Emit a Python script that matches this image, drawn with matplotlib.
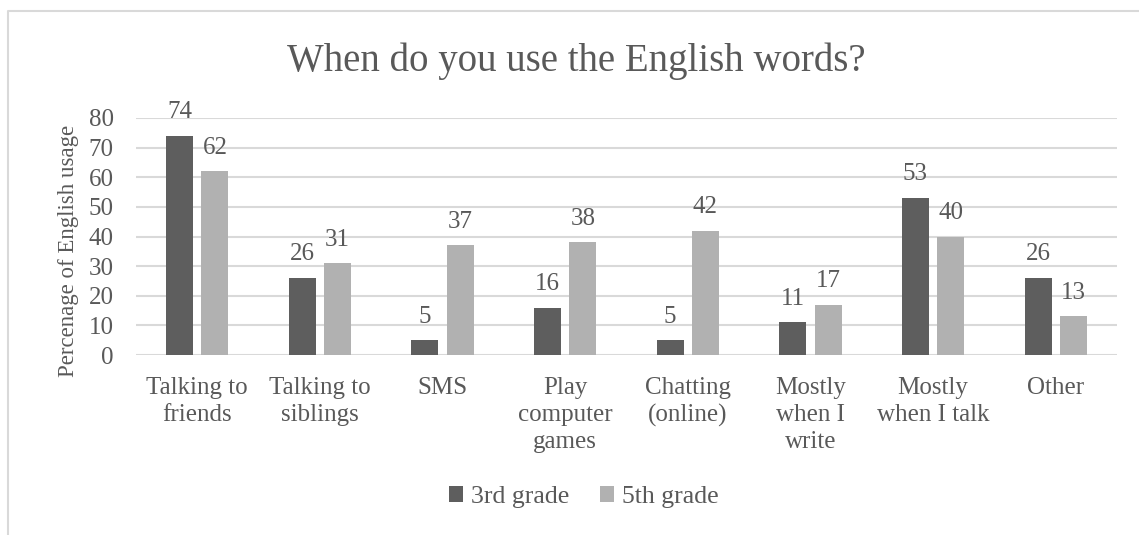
import matplotlib
matplotlib.use("Agg")
import matplotlib.pyplot as plt
import numpy as np
from matplotlib.lines import Line2D

categories = ["Talking to\nfriends", "Talking to\nsiblings", "SMS", "Play\ncomputer\ngames",
              "Chatting\n(online)", "Mostly\nwhen I\nwrite", "Mostly\nwhen I talk", "Other"]
grade3 = [74, 26, 5, 16, 5, 11, 53, 26]
grade5 = [62, 31, 37, 38, 42, 17, 40, 13]
series_names = ["3rd grade", "5th grade"]
yticks = [0, 10, 20, 30, 40, 50, 60, 70, 80]

TEXT = "#595959"
GRID = "#d9d9d9"
DARK = "#5e5e5e"
LIGHT = "#b1b1b1"
FONT = "Liberation Serif"

plt.rcParams["font.family"] = FONT

W, H = 1139, 535
fig = plt.figure(figsize=(W / 100, H / 100), dpi=100)
ax = fig.add_axes([136 / W, 1 - 355 / H, (1117 - 136) / W, (355 - 118) / H])

x = np.arange(len(categories))
bw = 0.22
off = 0.144
b3 = ax.bar(x - off, grade3, bw, color=DARK, label=series_names[0], zorder=3)
b5 = ax.bar(x + off, grade5, bw, color=LIGHT, label=series_names[1], zorder=3)

for bars in (b3, b5):
    ax.bar_label(bars, padding=9, fontsize=18, color=TEXT)

ax.set_xlim(-0.5, len(categories) - 0.5)
ax.set_ylim(0, 80)
ax.set_yticks(yticks)
ax.set_yticklabels([str(v) for v in yticks])
ax.set_xticks(x)
ax.set_xticklabels(categories, linespacing=1.29)

ax.grid(axis="y", color=GRID, linewidth=1.5, zorder=0)
ax.set_axisbelow(True)
for s in ax.spines.values():
    s.set_visible(False)
ax.tick_params(axis="both", length=0, labelsize=18, labelcolor=TEXT)
ax.tick_params(axis="x", pad=16)
ax.tick_params(axis="y", pad=16)

ax.set_ylabel("Percenage of English usage", fontsize=16.5, color=TEXT)
ax.yaxis.set_label_coords((79 - 136) / 981, 0.44)

fig.text(576 / W, 1 - 61 / H, "When do you use the English words?", fontsize=28,
         color=TEXT, ha="center", va="center")

fig.legend(handles=[b3, b5], labels=series_names, loc="center", ncol=2,
           bbox_to_anchor=(584 / W, 1 - 497 / H), frameon=False, fontsize=18.5,
           labelcolor=TEXT, handlelength=0.55, handleheight=0.55, handletextpad=0.3,
           columnspacing=1.2)

# chart frame (left and top edges)
fig.add_artist(Line2D([8 / W, 8 / W, 1.0], [0.0, 1 - 11 / H, 1 - 11 / H],
                      transform=fig.transFigure, color=GRID, linewidth=1.5))

fig.savefig("out.png", dpi=100)
